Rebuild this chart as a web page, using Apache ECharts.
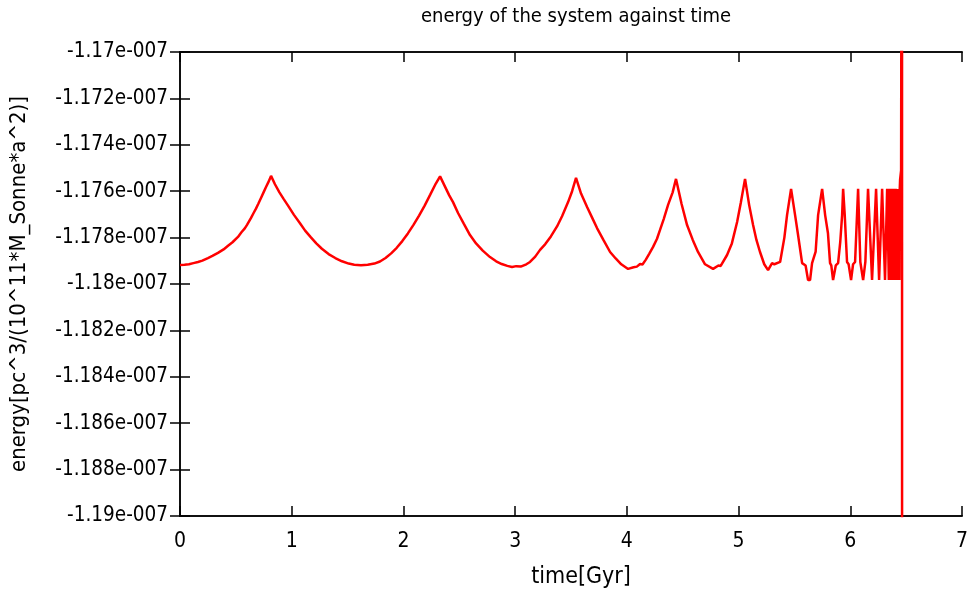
<!DOCTYPE html>
<html>
<head>
<meta charset="utf-8">
<script src="https://cdn.jsdelivr.net/npm/echarts@6/dist/echarts.min.js"></script>
<style>
  html, body { margin: 0; padding: 0; background: #fff; }
  #chart { width: 971px; height: 598px; }
</style>
</head>
<body>
<div id="chart"></div>
<script>
// time in Gyr
const time = [
  0, 0.04, 0.08, 0.12, 0.161, 0.20, 0.25, 0.29, 0.34, 0.39, 0.43, 0.47, 0.519, 0.55, 0.58, 0.60, 0.636, 0.66, 0.68, 0.70, 0.725, 0.75, 0.77, 0.79, 0.815,
  0.85, 0.89, 0.93, 0.967, 1.02, 1.074, 1.12, 1.17, 1.22, 1.27, 1.33, 1.39, 1.45, 1.51, 1.56, 1.62, 1.68, 1.74, 1.79, 1.84, 1.89, 1.94, 1.99, 2.04, 2.09, 2.14, 2.19, 2.24, 2.29, 2.328,
  2.37, 2.41, 2.444, 2.49, 2.54, 2.596, 2.65, 2.71, 2.775, 2.83, 2.88, 2.93, 2.972, 3.01, 3.05, 3.10, 3.133, 3.18, 3.223, 3.27, 3.32, 3.375, 3.42, 3.474, 3.51, 3.545,
  3.59, 3.644, 3.69, 3.733, 3.79, 3.85, 3.90, 3.95, 4.011, 4.06, 4.09, 4.118, 4.14, 4.17, 4.20, 4.235, 4.27, 4.297, 4.33, 4.369, 4.41, 4.44,
  4.49, 4.539, 4.59, 4.637, 4.70, 4.772, 4.82, 4.84, 4.897, 4.94, 4.987, 5.02, 5.058,
  5.095, 5.13, 5.16, 5.192, 5.23, 5.264, 5.30, 5.32, 5.372, 5.41, 5.434, 5.47,
  5.506, 5.53, 5.569, 5.60, 5.622, 5.64, 5.658, 5.69, 5.712, 5.748,
  5.775, 5.80, 5.819, 5.83, 5.846, 5.87, 5.891, 5.91, 5.927, 5.936,
  5.95, 5.971, 5.985, 6.007, 6.025, 6.043, 6.07, 6.09, 6.115, 6.135, 6.159,
  6.195, 6.231, 6.258, 6.285, 6.311, 6.33,
  6.345, 6.350, 6.354, 6.358, 6.362, 6.366, 6.370, 6.374, 6.378, 6.382, 6.386, 6.390, 6.394, 6.398,
  6.402, 6.406, 6.410, 6.413, 6.416, 6.419, 6.422, 6.425, 6.428, 6.431, 6.434, 6.437, 6.440, 6.443,
  6.446, 6.452, 6.455, 6.462, 6.463, 6.464
];
// energy in units of 1e-10 (pc^3/(10^11*M_Sonne*a^2))
const energy = [
  -1179.18, -1179.17, -1179.15, -1179.10, -1179.05, -1178.99, -1178.88, -1178.79, -1178.66, -1178.51, -1178.35, -1178.20, -1177.97, -1177.77, -1177.60, -1177.45, -1177.15, -1176.93, -1176.75, -1176.55, -1176.29, -1176.03, -1175.82, -1175.62, -1175.34,
  -1175.70, -1176.05, -1176.35, -1176.62, -1177.02, -1177.38, -1177.70, -1177.98, -1178.25, -1178.48, -1178.71, -1178.88, -1179.02, -1179.12, -1179.17, -1179.19, -1179.17, -1179.12, -1179.03, -1178.88, -1178.68, -1178.44, -1178.15, -1177.82, -1177.45, -1177.05, -1176.62, -1176.15, -1175.67, -1175.36,
  -1175.78, -1176.18, -1176.47, -1176.95, -1177.40, -1177.89, -1178.25, -1178.56, -1178.84, -1179.02, -1179.14, -1179.22, -1179.27, -1179.23, -1179.25, -1179.15, -1179.05, -1178.82, -1178.53, -1178.28, -1177.95, -1177.52, -1177.08, -1176.47, -1176.00, -1175.43,
  -1176.10, -1176.68, -1177.15, -1177.59, -1178.10, -1178.62, -1178.90, -1179.15, -1179.35, -1179.28, -1179.25, -1179.14, -1179.16, -1178.95, -1178.70, -1178.40, -1178.05, -1177.67, -1177.20, -1176.59, -1176.05, -1175.47,
  -1176.55, -1177.46, -1178.10, -1178.62, -1179.15, -1179.35, -1179.20, -1179.22, -1178.75, -1178.25, -1177.33, -1176.50, -1175.47,
  -1176.60, -1177.46, -1178.10, -1178.62, -1179.15, -1179.40, -1179.10, -1179.15, -1179.05, -1178.00, -1177.03, -1175.90,
  -1177.03, -1177.80, -1179.10, -1179.20, -1179.83, -1179.83, -1179.10, -1178.60, -1177.03, -1175.90,
  -1177.03, -1177.80, -1179.10, -1179.20, -1179.83, -1179.20, -1179.10, -1178.20, -1177.03, -1175.90,
  -1177.00, -1179.05, -1179.15, -1179.83, -1179.15, -1179.05, -1175.90, -1179.05, -1179.83, -1179.05, -1175.90,
  -1179.83, -1175.90, -1179.83, -1175.90, -1179.83, -1175.90,
  -1179.83, -1175.90, -1179.83, -1175.90, -1179.83, -1175.90, -1179.83, -1175.90, -1179.83, -1175.90, -1179.83, -1175.90, -1179.83, -1175.90,
  -1179.83, -1175.90, -1179.83, -1175.90, -1179.83, -1175.90, -1179.83, -1175.90, -1179.83, -1175.90, -1179.83, -1175.90, -1179.83, -1175.90,
  -1175.50, -1175.50, -1175.10, -1175.10, -1150.00, -1210.00
];
const xTicks = [0, 1, 2, 3, 4, 5, 6, 7];
const yTickLabels = ['-1.19e-007', '-1.188e-007', '-1.186e-007', '-1.184e-007', '-1.182e-007',
  '-1.18e-007', '-1.178e-007', '-1.176e-007', '-1.174e-007', '-1.172e-007', '-1.17e-007'];

const FONT = 'DejaVu Sans Condensed';
const points = time.map((t, i) => [t, energy[i]]);

const chart = echarts.init(document.getElementById('chart'), null, { renderer: 'canvas' });

const tickStyle = { show: true, inside: true, length: 10, lineStyle: { color: '#000', width: 1.5 } };
const lineStyle = { show: true, lineStyle: { color: '#111', width: 2 } };

chart.setOption({
  animation: false,
  backgroundColor: '#fff',
  title: {
    text: 'energy of the system against time',
    left: 571, top: 2, textAlign: 'center',
    textStyle: { fontFamily: FONT, fontSize: 20, fontWeight: 'normal', color: '#000' }
  },
  grid: { left: 180, right: 8, top: 52, bottom: 82 },
  xAxis: [{
    type: 'value', min: 0, max: 7, interval: 1, position: 'bottom',
    name: 'time[Gyr]', nameLocation: 'middle', nameGap: 50,
    nameTextStyle: { fontFamily: FONT, fontSize: 23, color: '#000', padding: [0, 0, 0, 20] },
    axisLine: lineStyle, axisTick: tickStyle, splitLine: { show: false },
    axisLabel: { fontFamily: FONT, fontSize: 21, color: '#000', margin: 15,
      formatter: v => (xTicks.indexOf(v) >= 0 ? String(v) : '') }
  }, {
    type: 'value', min: 0, max: 7, interval: 1, position: 'top',
    axisLine: lineStyle, axisTick: tickStyle, splitLine: { show: false },
    axisLabel: { show: false }
  }],
  yAxis: [{
    type: 'value', min: -1190, max: -1170, interval: 2, position: 'left',
    name: 'energy[pc^3/(10^11*M_Sonne*a^2)]', nameLocation: 'middle', nameGap: 150, nameRotate: 90,
    nameTextStyle: { fontFamily: FONT, fontSize: 22, color: '#000' },
    axisLine: lineStyle, axisTick: tickStyle, splitLine: { show: false },
    axisLabel: { fontFamily: FONT, fontSize: 20.5, color: '#000', margin: 12,
      formatter: v => yTickLabels[Math.round((v + 1190) / 2)] || '' }
  }, {
    type: 'value', min: -1190, max: -1170, interval: 2, position: 'right',
    axisLine: lineStyle, axisTick: tickStyle, splitLine: { show: false },
    axisLabel: { show: false }
  }],
  series: [{
    type: 'line', xAxisIndex: 0, yAxisIndex: 0,
    data: points, showSymbol: false, symbol: 'none', clip: true,
    lineStyle: { color: '#ff0000', width: 2.5 }
  }]
});
</script>
</body>
</html>
